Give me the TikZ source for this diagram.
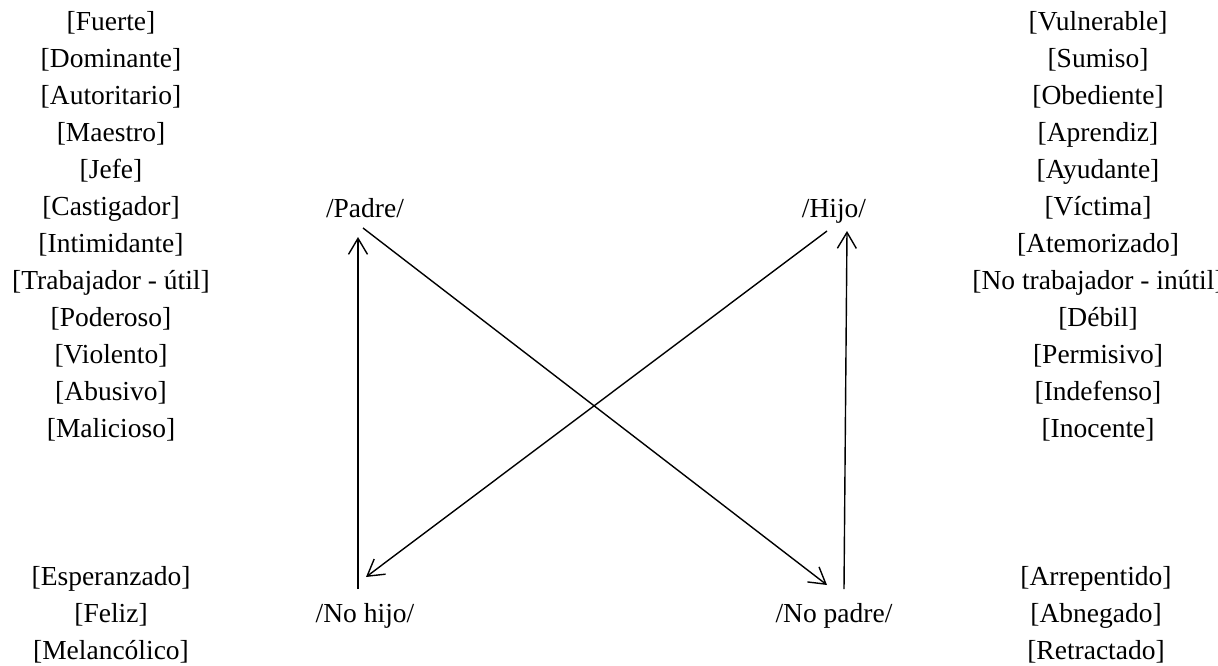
\documentclass[tikz,border=0pt]{standalone}
\usepackage{fontspec}
\setmainfont{Liberation Serif}
\usetikzlibrary{arrows.meta}
\begin{document}
\begin{tikzpicture}[x=1pt,y=1pt,
  lbl/.style={anchor=base,inner sep=0pt,font=\fontsize{27.5}{33}\selectfont},
  arr/.style={-{Straight Barb[length=16pt,width=19pt,line width=1.4pt]},line width=1.4pt}]
\useasboundingbox (0,0) rectangle (1218,-666);
% upper left list
\foreach \t [count=\i] in {Fuerte,Dominante,Autoritario,Maestro,Jefe,Castigador,Intimidante,Trabajador - útil,Poderoso,Violento,Abusivo,Malicioso}
  \node[lbl] (UL\i) at (111,{-30.5-37*(\i-1)}) {[\t]};
% upper right list
\foreach \t [count=\i] in {Vulnerable,Sumiso,Obediente,Aprendiz,Ayudante,Víctima,Atemorizado,No trabajador - inútil,Débil,Permisivo,Indefenso,Inocente}
  \node[lbl] (UR\i) at (1098,{-30.5-37*(\i-1)}) {[\t]};
% lower lists
\foreach \t [count=\i] in {Esperanzado,Feliz,Melancólico}
  \node[lbl] (LL\i) at (111,{-585.5-36.8*(\i-1)}) {[\t]};
\foreach \t [count=\i] in {Arrepentido,Abnegado,Retractado}
  \node[lbl] (LR\i) at (1096,{-585.5-36.8*(\i-1)}) {[\t]};
% semiotic square
\node[lbl] (padre) at (365,-217) {/Padre/};
\node[lbl] (hijo) at (834,-217) {/Hijo/};
\node[lbl] (nohijo) at (365,-622) {/No hijo/};
\node[lbl] (nopadre) at (834,-622) {/No padre/};
\draw[arr] ([shift={(-7,33)}]nohijo.base) -- ([shift={(-7,-20)}]padre.base);
\draw[arr] ([shift={(-2,-11)}]padre.base) -- ([shift={(-7,37)}]nopadre.base);
\draw[arr] ([shift={(-7,-14)}]hijo.base) -- ([shift={(1,45)}]nohijo.base);
\draw[arr] ([shift={(10,33)}]nopadre.base) -- ([shift={(13,-14)}]hijo.base);
\end{tikzpicture}
\end{document}
